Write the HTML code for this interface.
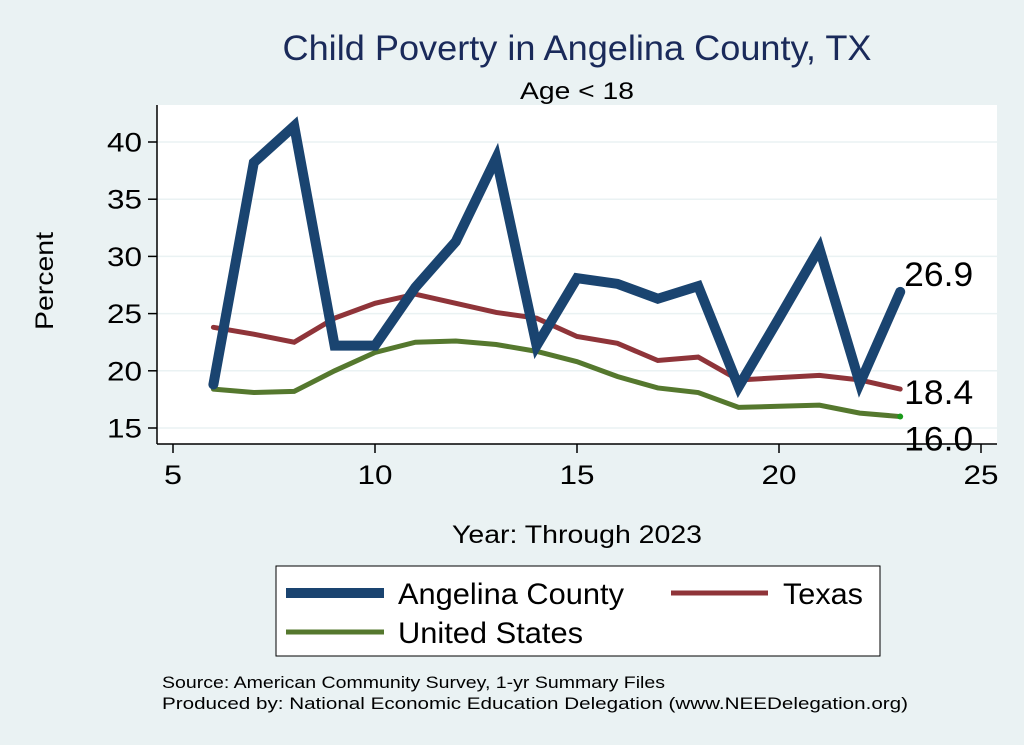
<!DOCTYPE html>
<html><head><meta charset="utf-8"><style>
html,body{margin:0;padding:0;background:#eaf2f3;}
svg{display:block;font-family:"Liberation Sans",sans-serif;}
</style></head><body>
<svg id="chart" width="1024" height="745" viewBox="0 0 1024 745">
<rect x="0" y="0" width="1024" height="745" fill="#eaf2f3"/>
<rect x="157" y="105" width="840" height="339" fill="#ffffff"/>
<text x="577" y="60" font-size="35" fill="#1a2a5a" text-anchor="middle" textLength="589" lengthAdjust="spacingAndGlyphs">Child Poverty in Angelina County, TX</text>
<text x="577" y="99" font-size="24" fill="#000" text-anchor="middle" textLength="114" lengthAdjust="spacingAndGlyphs">Age &lt; 18</text>
<text x="0" y="0" font-size="25" fill="#000" text-anchor="middle" textLength="98" lengthAdjust="spacingAndGlyphs" transform="translate(53,281) rotate(-90)">Percent</text>
<text x="577" y="543" font-size="25" fill="#000" text-anchor="middle" textLength="250" lengthAdjust="spacingAndGlyphs">Year: Through 2023</text>
<g id="grid"></g><g id="axes"></g><g id="series"></g><g id="labels"></g>
<rect x="276" y="566" width="604" height="90" fill="#fff" stroke="#000" stroke-width="1"/>
<g>
<line x1="286" y1="593" x2="384" y2="593" stroke="#1a4470" stroke-width="10"/>
<text x="398" y="604" font-size="30" textLength="226" lengthAdjust="spacingAndGlyphs">Angelina County</text></g>
<g>
<line x1="671" y1="593" x2="768" y2="593" stroke="#8f3439" stroke-width="5"/>
<text x="783" y="604" font-size="30" textLength="80" lengthAdjust="spacingAndGlyphs">Texas</text></g>
<g>
<line x1="286" y1="632" x2="384" y2="632" stroke="#55782e" stroke-width="5"/>
<text x="398" y="643" font-size="30" textLength="185" lengthAdjust="spacingAndGlyphs">United States</text></g>
<text x="162" y="688" font-size="17" textLength="503" lengthAdjust="spacingAndGlyphs">Source: American Community Survey, 1-yr Summary Files</text>
<text x="162" y="709" font-size="17" textLength="746" lengthAdjust="spacingAndGlyphs">Produced by: National Economic Education Delegation (www.NEEDelegation.org)</text>
</svg>
<script>
const years=[6,7,8,9,10,11,12,13,14,15,16,17,18,19,20,21,22,23];
const angelina=[18.8,38.2,41.4,22.2,22.2,27.3,31.3,38.6,22.2,28.1,27.6,26.3,27.4,18.6,24.6,30.7,18.9,26.9];
const texas=[23.8,23.2,22.5,24.6,25.9,26.7,25.9,25.1,24.6,23.0,22.4,20.9,21.2,19.2,19.4,19.6,19.2,18.4];
const usa=[18.4,18.1,18.2,20.0,21.6,22.5,22.6,22.3,21.7,20.8,19.5,18.5,18.1,16.8,16.9,17.0,16.3,16.0];
const xTicks=[5,10,15,20,25];
const yTicks=[15,20,25,30,35,40];
const NS="http://www.w3.org/2000/svg";
const xs=v=>173+(v-5)*40.4;
const ys=v=>428-(v-15)*11.44;
function mk(tag,attrs,parent){const e=document.createElementNS(NS,tag);for(const k in attrs)e.setAttribute(k,attrs[k]);document.getElementById(parent).appendChild(e);return e;}
mk('line',{x1:157,y1:105,x2:157,y2:444,stroke:'#000','stroke-width':1.5},'axes');
mk('line',{x1:157,y1:444,x2:997,y2:444,stroke:'#000','stroke-width':1.5},'axes');
yTicks.forEach(t=>{
 const g=mk('line',{x1:157,y1:ys(t),x2:997,y2:ys(t),stroke:'#eaf2f3','stroke-width':1.5},'grid');
 
 
 mk('line',{x1:148,y1:ys(t),x2:157,y2:ys(t),stroke:'#000','stroke-width':1.5},'axes');
 const l=mk('text',{x:142,y:ys(t)+9.5,'font-size':27,'text-anchor':'end',textLength:35,lengthAdjust:'spacingAndGlyphs'},'axes');
 l.textContent=t;
 
 
});
xTicks.forEach(t=>{
 mk('line',{x1:xs(t),y1:444,x2:xs(t),y2:453,stroke:'#000','stroke-width':1.5},'axes');
 const l=mk('text',{x:xs(t),y:484,'font-size':27,'text-anchor':'middle',textLength:t<10?18:35,lengthAdjust:'spacingAndGlyphs'},'axes');
 l.textContent=t;
 
 
});
function line(vals,color,w,name){
 const p=mk('polyline',{points:vals.map((v,i)=>xs(years[i])+','+ys(v)).join(' '),fill:'none',stroke:color,'stroke-width':w,'stroke-linejoin':'miter','stroke-linecap':'round'},'series');
 
 
}
line(usa,'#55782e',5,'line-united-states');
line(texas,'#8f3439',5,'line-texas');
line(angelina,'#1a4470',10,'line-angelina-county');
mk('circle',{cx:xs(23),cy:ys(usa[usa.length-1]),r:3,fill:'#1a9a1a'},'series');
function lab(v,dy,name){
 const t=mk('text',{x:xs(23)+4,y:ys(v)+dy,'font-size':34,textLength:69,lengthAdjust:'spacingAndGlyphs'},'labels');
 t.textContent=v.toFixed(1);
 
 
}
lab(angelina[angelina.length-1],-6,'label-angelina-last');
lab(texas[texas.length-1],15,'label-texas-last');
lab(usa[usa.length-1],34,'label-us-last');
</script>
</body></html>
